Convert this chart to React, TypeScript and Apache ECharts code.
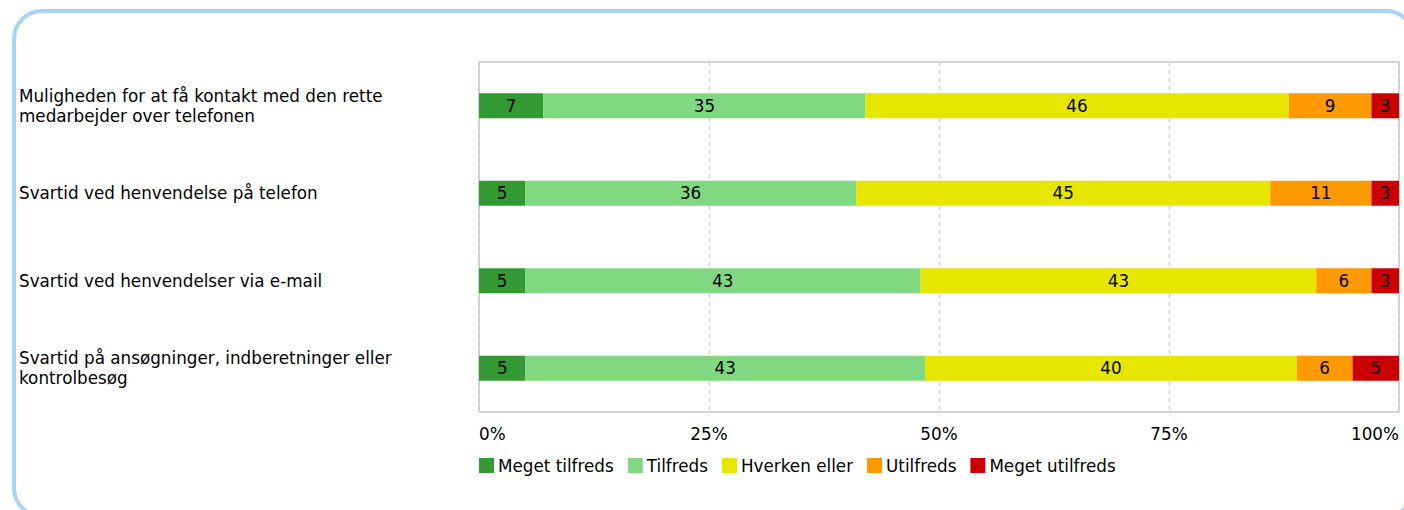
import React, { useEffect, useRef } from "react";
import * as echarts from "echarts";

// Survey questions (top to bottom)
const categories: string[] = [
  "Muligheden for at få kontakt med den rette\nmedarbejder over telefonen",
  "Svartid ved henvendelse på telefon",
  "Svartid ved henvendelser via e-mail",
  "Svartid på ansøgninger, indberetninger eller\nkontrolbesøg",
];

// Answer shares in percent, one array per answer option
const megetTilfreds: number[] = [7, 5, 5, 5];
const tilfreds: number[] = [35, 36, 43, 43];
const hverkenEller: number[] = [46, 45, 43, 40];
const utilfreds: number[] = [9, 11, 6, 6];
const megetUtilfreds: number[] = [3, 3, 3, 5];

const seriesNames: string[] = ["Meget tilfreds", "Tilfreds", "Hverken eller", "Utilfreds", "Meget utilfreds"];
const seriesColors: string[] = ["#339933", "#80d880", "#e6e600", "#ff9900", "#cc0000"];

const xTicks: number[] = [0, 25, 50, 75, 100];

const FONT = "'DejaVu Sans', Verdana, sans-serif";
const FS = 16.8;

export default function App() {
  const ref = useRef<HTMLDivElement>(null);

  useEffect(() => {
    if (!ref.current) return;
    const chart = echarts.init(ref.current, undefined, { renderer: "svg" });

    const raw = [megetTilfreds, tilfreds, hverkenEller, utilfreds, megetUtilfreds];
    // each row is scaled to fill the full 100% width
    const rowSums = categories.map((_, i) => raw.reduce((s, arr) => s + arr[i], 0));

    const series = raw.map((arr, si) => ({
      name: seriesNames[si],
      type: "bar",
      stack: "total",
      barWidth: 25,
      itemStyle: { color: seriesColors[si] },
      label: {
        show: true,
        position: "inside",
        color: "#000",
        fontFamily: FONT,
        fontSize: FS,
        formatter: (p: any) => String(arr[p.dataIndex]),
      },
      data: arr.map((v, i) => (v / rowSums[i]) * 100),
    }));

    chart.setOption({
      animation: false,
      textStyle: { fontFamily: FONT },
      graphic: [
        {
          type: "rect",
          shape: { x: 14, y: 11, width: 1400, height: 505, r: 28 },
          style: { fill: "none", stroke: "#a8d3f4", lineWidth: 4 },
          silent: true,
          z: -10,
        },
      ],
      grid: {
        left: 479,
        right: 5,
        top: 62,
        bottom: 98,
        show: true,
        borderColor: "#aaaaaa",
        borderWidth: 1,
      },
      legend: {
        left: 474,
        top: 452,
        itemWidth: 15,
        itemHeight: 15,
        itemGap: 14,
        icon: "rect",
        textStyle: { fontFamily: FONT, fontSize: FS, color: "#000", padding: [0, 0, 0, -1] },
        data: seriesNames,
      },
      xAxis: {
        type: "value",
        min: xTicks[0],
        max: xTicks[xTicks.length - 1],
        interval: 25,
        axisLine: { show: false },
        axisTick: { show: false },
        axisLabel: {
          formatter: "{value}%",
          color: "#000",
          fontFamily: FONT,
          fontSize: FS,
          margin: 13,
          alignMinLabel: "left",
          alignMaxLabel: "right",
        },
        splitLine: { show: true, lineStyle: { color: "#cccccc", type: [4, 4] } },
      },
      yAxis: {
        type: "category",
        inverse: true,
        data: categories,
        axisLine: { show: false },
        axisTick: { show: false },
        axisLabel: {
          align: "left",
          margin: 460,
          color: "#000",
          fontFamily: FONT,
          fontSize: FS,
          lineHeight: 20,
          padding: [2, 0, 0, 0],
        },
      },
      series,
    });

    return () => chart.dispose();
  }, []);

  return (
    <div
      ref={ref}
      style={{ position: "fixed", left: 0, top: 0, width: 1404, height: 510, background: "#fff" }}
    />
  );
}
